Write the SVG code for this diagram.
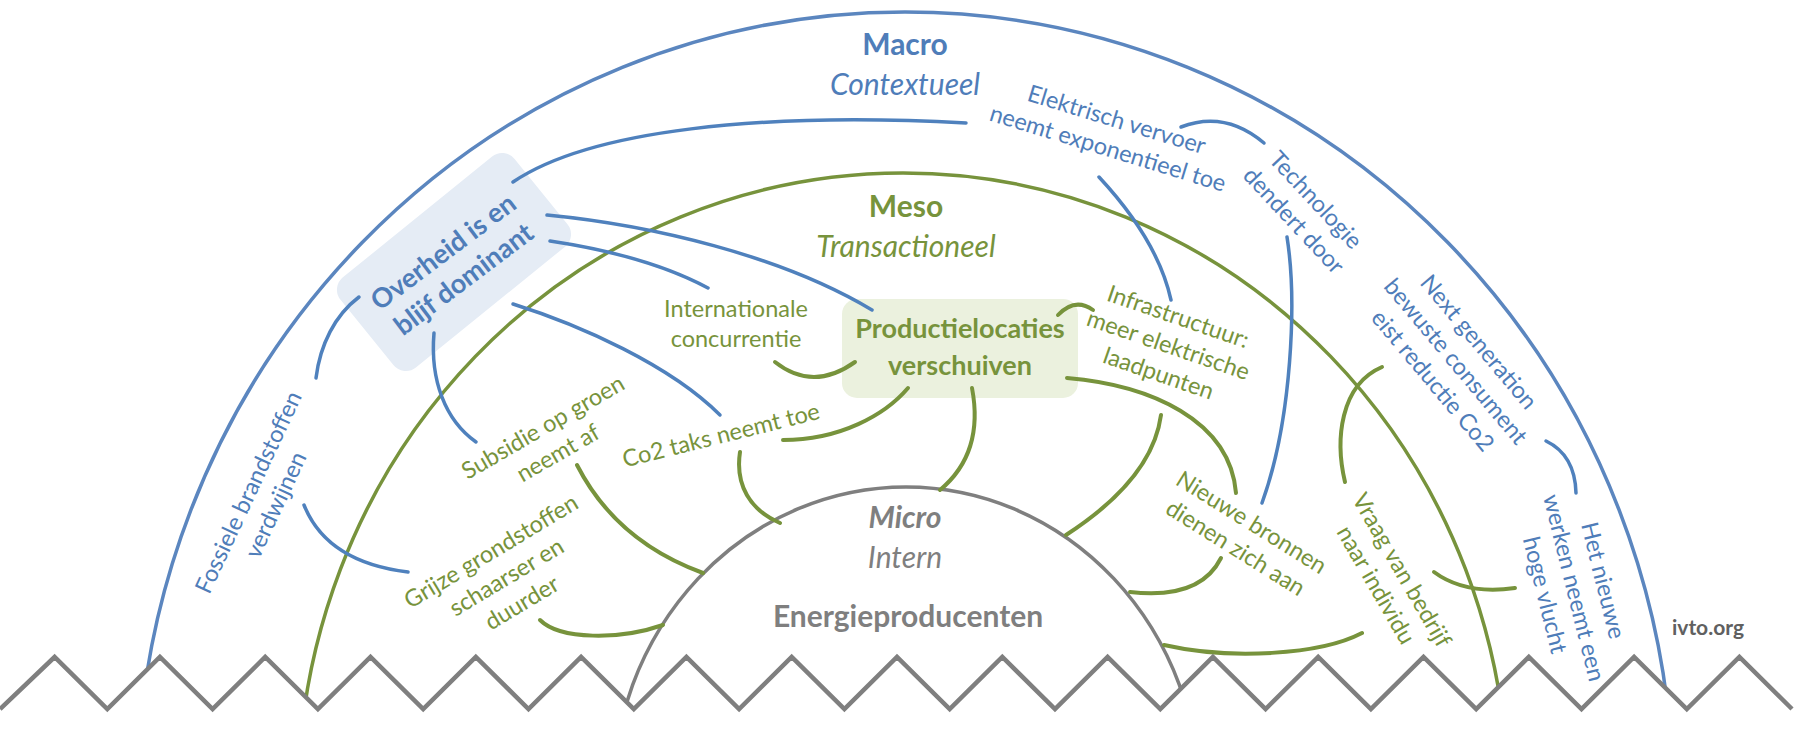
<svg xmlns="http://www.w3.org/2000/svg" width="1800" height="729" viewBox="0 0 1800 729">
<style>
.lb{fill:none;stroke:#4f81bd;stroke-width:3.5;stroke-linecap:round}
.lg{fill:none;stroke:#77933c;stroke-width:4;stroke-linecap:round}
.ring-b{fill:none;stroke:#5b86bf;stroke-width:3.5}
.ring-g{fill:none;stroke:#77933c;stroke-width:3.5}
.ring-m{fill:none;stroke:#7f7f7f;stroke-width:3.5}
.zig{fill:none;stroke:#7f7f7f;stroke-width:4.5;stroke-linejoin:miter}
text{font-family:Lato,'Liberation Sans',sans-serif;text-anchor:middle}
.s{font-size:23.5px}
.big{font-size:30px;font-weight:bold}
.bigi{font-size:30px;font-style:italic}
.cb{fill:#4f7db9}
.cg{fill:#77933c}
.cm{fill:#7f7f7f}
.node{font-size:27px;font-weight:bold}
</style>

<g id="rings">
<ellipse class="ring-b" cx="905" cy="800" rx="768" ry="788"/>
<ellipse class="ring-g" cx="903" cy="800" rx="605" ry="627"/>
<ellipse class="ring-m" cx="906" cy="800" rx="294" ry="313"/>
</g>

<g id="node-overheid">
<rect x="-112" y="-58" width="224" height="116" rx="16" fill="#e5ecf5" transform="translate(454,262) rotate(-39)"/>
<g transform="translate(453,265) rotate(-37)">
<text class="node cb" y="-7">Overheid is en</text>
<text class="node cb" y="27">blijf dominant</text>
</g>
</g>

<g id="node-productie">
<rect x="842" y="299" width="236" height="99" rx="15" fill="#ebf1de"/>
<text class="node cg" x="960" y="338">Productielocaties</text>
<text class="node cg" x="960" y="375">verschuiven</text>
</g>

<g id="connectors">
<path class="lb" d="M513,182 C590,130 760,112 966,123"/>
<path class="lb" d="M547,215 C650,225 780,255 872,310"/>
<path class="lb" d="M550,241 C610,250 665,265 708,288"/>
<path class="lb" d="M513,304 C580,325 670,365 720,415"/>
<path class="lb" d="M434,333 C430,380 445,420 476,442"/>
<path class="lb" d="M359,297 C335,315 320,345 316,378"/>
<path class="lb" d="M304,505 C318,540 350,565 408,572"/>
<path class="lb" d="M1099,177 C1125,205 1160,250 1171,300"/>
<path class="lb" d="M1181,127 Q1225,110 1264,143"/>
<path class="lb" d="M1287,237 C1297,300 1292,420 1262,503"/>
<path class="lb" d="M1546,441 Q1575,455 1576,493"/>
<path class="lg" d="M1058,315 Q1075,297 1093,310"/>
<path class="lg" d="M775,362 Q813,392 855,362"/>
<path class="lg" d="M908,388 C885,415 840,440 783,440"/>
<path class="lg" d="M972,388 C980,430 970,465 940,490"/>
<path class="lg" d="M740,452 C735,485 750,510 780,523"/>
<path class="lg" d="M577,465 C600,510 640,550 703,573"/>
<path class="lg" d="M540,620 C560,640 620,640 663,625"/>
<path class="lg" d="M1067,378 C1150,385 1230,420 1236,493"/>
<path class="lg" d="M1161,415 C1155,460 1120,500 1066,535"/>
<path class="lg" d="M1221,558 Q1200,600 1130,592"/>
<path class="lg" d="M1362,633 C1320,655 1230,660 1164,645"/>
<path class="lg" d="M1382,367 C1340,385 1335,440 1345,482"/>
<path class="lg" d="M1434,572 Q1465,595 1515,588"/>
</g>

<g id="ground">
<polygon fill="#ffffff" points="0,709 54.6,657 107.3,709 159.9,657 212.6,709 265.2,657 317.9,709 370.5,657 423.2,709 475.8,657 528.5,709 581.1,657 633.8,709 686.4,657 739.1,709 791.7,657 844.4,709 897,657 949.7,709 1002.3,657 1055,709 1107.6,657 1160.3,709 1212.9,657 1265.6,709 1318.2,657 1370.9,709 1423.5,657 1476.2,709 1528.8,657 1581.5,709 1634.1,657 1686.8,709 1739.4,657 1792,709 1800,709 1800,729 0,729"/>
<polyline class="zig" points="0,709 54.6,657 107.3,709 159.9,657 212.6,709 265.2,657 317.9,709 370.5,657 423.2,709 475.8,657 528.5,709 581.1,657 633.8,709 686.4,657 739.1,709 791.7,657 844.4,709 897,657 949.7,709 1002.3,657 1055,709 1107.6,657 1160.3,709 1212.9,657 1265.6,709 1318.2,657 1370.9,709 1423.5,657 1476.2,709 1528.8,657 1581.5,709 1634.1,657 1686.8,709 1739.4,657 1792,709"/>
</g>

<g id="labels-levels">
<text class="big cb" x="905" y="55">Macro</text>
<text class="bigi cb" x="905" y="95">Contextueel</text>
<text class="big cg" x="906" y="217">Meso</text>
<text class="bigi cg" x="906" y="257">Transactioneel</text>
<text class="big cm" x="905" y="528" font-style="italic">Micro</text>
<text class="bigi cm" x="905" y="568">Intern</text>
<text class="big cm" x="908" y="627">Energieproducenten</text>
<text x="1708" y="635" font-size="21px" font-weight="bold" fill="#606060">ivto.org</text>
</g>

<g id="node-fossiele" transform="translate(263,499) rotate(-65)">
<text class="s cb" y="-8">Fossiele brandstoffen</text>
<text class="s cb" y="22">verdwijnen</text>
</g>
<g id="node-subsidie" transform="translate(551,441) rotate(-30)">
<text class="s cg" y="-8">Subsidie op groen</text>
<text class="s cg" y="22">neemt af</text>
</g>
<g id="node-co2" transform="translate(723,443) rotate(-14)">
<text class="s cg" y="0">Co2 taks neemt toe</text>
</g>
<g id="node-internationale">
<text class="s cg" x="736" y="317">Internationale</text>
<text class="s cg" x="736" y="347">concurrentie</text>
</g>
<g id="node-grijze" transform="translate(507,578) rotate(-31)">
<text class="s cg" y="-23">Grijze grondstoffen</text>
<text class="s cg" y="7">schaarser en</text>
<text class="s cg" y="37">duurder</text>
</g>
<g id="node-elektrisch" transform="translate(1112,135) rotate(17)">
<text class="s cb" y="-8">Elektrisch vervoer</text>
<text class="s cb" y="22">neemt exponentieel toe</text>
</g>
<g id="node-technologie" transform="translate(1304,211) rotate(47)">
<text class="s cb" y="-8">Technologie</text>
<text class="s cb" y="22">dendert door</text>
</g>
<g id="node-infrastructuur" transform="translate(1168,346) rotate(19)">
<text class="s cg" y="-23">Infrastructuur:</text>
<text class="s cg" y="7">meer elektrische</text>
<text class="s cg" y="37">laadpunten</text>
</g>
<g id="node-nextgen" transform="translate(1455,362) rotate(50)">
<text class="s cb" y="-23">Next generation</text>
<text class="s cb" y="7">bewuste consument</text>
<text class="s cb" y="37">eist reductie Co2</text>
</g>
<g id="node-nieuwe-bronnen" transform="translate(1243,536) rotate(32)">
<text class="s cg" y="-8">Nieuwe bronnen</text>
<text class="s cg" y="22">dienen zich aan</text>
</g>
<g id="node-vraag" transform="translate(1388,578) rotate(60)">
<text class="s cg" y="-8">Vraag van bedrijf</text>
<text class="s cg" y="22">naar individu</text>
</g>
<g id="node-hetnieuwe" transform="translate(1573,588) rotate(76)">
<text class="s cb" y="-23">Het nieuwe</text>
<text class="s cb" y="7">werken neemt een</text>
<text class="s cb" y="37">hoge vlucht</text>
</g>
</svg>
